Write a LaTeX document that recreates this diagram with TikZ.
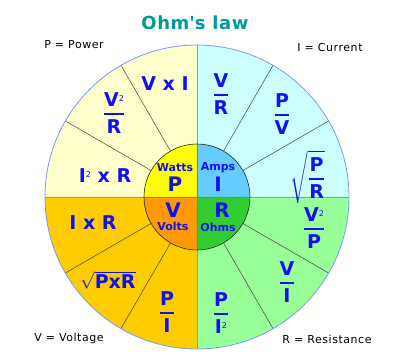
\documentclass[tikz,border=0pt]{standalone}
\usepackage{amsmath}
\usepackage{fontspec}
\setmainfont{DejaVu Sans}
\newfontfamily\legendfont[LetterSpace=5]{DejaVu Sans}
\newfontfamily\titlefont[LetterSpace=3]{DejaVu Sans}
\usepackage{tikz}
\usepackage{xcolor}

\definecolor{powerlight}{HTML}{FFFFCC}
\definecolor{powerdark}{HTML}{FFFF00}
\definecolor{amplight}{HTML}{CCFFFF}
\definecolor{ampdark}{HTML}{66CCFF}
\definecolor{voltlight}{HTML}{FFCC00}
\definecolor{voltdark}{HTML}{FF9900}
\definecolor{ohmlight}{HTML}{99FF99}
\definecolor{ohmdark}{HTML}{33CC33}
\definecolor{ohmblue}{HTML}{1010F0}
\definecolor{ohmteal}{HTML}{009999}
\definecolor{rimblue}{HTML}{7799FF}

\newcommand{\fr}[2]{$\genfrac{}{}{1.6pt}{0}{\text{#1}}{\text{#2}}$}
\newcommand{\sq}{\raisebox{5pt}{\mdseries\fontsize{8}{8}\selectfont 2}}

\begin{document}
\begin{tikzpicture}[x=1pt,y=1pt,
    formula/.style={text=ohmblue,inner sep=0pt,font=\fontsize{19}{21}\selectfont\bfseries},
    unit/.style={text=ohmblue,inner sep=0pt,font=\fontsize{11}{13}\selectfont\bfseries},
    quantity/.style={text=ohmblue,inner sep=0pt,font=\fontsize{20}{22}\selectfont\bfseries},
    legend/.style={inner sep=0pt,font=\legendfont\fontsize{11}{13}\selectfont},
    divider/.style={black!75,line width=0.5pt},
    axisline/.style={black!40,line width=0.6pt}]
        \def\rout{152}
        \def\rin{53}
        \useasboundingbox (-197,-167) rectangle (203,197);

        %------------------
        % outer sectors
        %------------------
        \fill[powerlight] (0,0) -- (90:\rout) arc[start angle=90,end angle=180,radius=\rout] -- cycle;
        \fill[amplight] (0,0) -- (0:\rout) arc[start angle=0,end angle=90,radius=\rout] -- cycle;
        \fill[voltlight] (0,0) -- (180:\rout) arc[start angle=180,end angle=270,radius=\rout] -- cycle;
        \fill[ohmlight] (0,0) -- (270:\rout) arc[start angle=270,end angle=360,radius=\rout] -- cycle;

        % dividers
        \foreach \a in {30,60,120,150,210,240,300,330}
          \draw[divider] (\a:\rin) -- (\a:\rout);
        \draw[axisline] (-\rout,0) -- (\rout,0);
        \draw[axisline] (0,-\rout) -- (0,\rout);
        \draw[rimblue,line width=0.8pt] (0,0) circle (\rout);

        %------------------
        % inner circle
        %------------------
        \fill[powerdark] (0,0) -- (90:\rin) arc[start angle=90,end angle=180,radius=\rin] -- cycle;
        \fill[ampdark] (0,0) -- (0:\rin) arc[start angle=0,end angle=90,radius=\rin] -- cycle;
        \fill[voltdark] (0,0) -- (180:\rin) arc[start angle=180,end angle=270,radius=\rin] -- cycle;
        \fill[ohmdark] (0,0) -- (270:\rin) arc[start angle=270,end angle=360,radius=\rin] -- cycle;
        \draw[black!50,line width=0.5pt] (-\rin,0) -- (\rin,0) (0,-\rin) -- (0,\rin);
        \draw[black!85,line width=0.6pt] (0,0) circle (\rin);

        \node[unit] (watts) at (-22,29) {Watts};
        \node[quantity] (power) at (-22,13) {P};
        \node[unit] (amps) at (21,29) {Amps};
        \node[quantity] (current) at (21,13) {I};
        \node[quantity] (voltage) at (-24,-13) {V};
        \node[unit] (volts) at (-24,-29) {Volts};
        \node[quantity] (resistance) at (25,-13) {R};
        \node[unit] (ohms) at (21,-30) {Ohms};

        %------------------
        % formulas
        %------------------
        % P
        \node[formula] (pvi) at (-32,113) {V x I};
        \node[formula] (pvr) at (-83,84) {\fr{V\sq}{R}};
        \node[formula] (pir) at (-92,21) {I\sq\ x R};
        % I
        \node[formula] (ivr) at (24,103) {\fr{V}{R}};
        \node[formula] (ipv) at (85,83) {\fr{P}{V}};
        \node[formula] (ipr) at (111,20) {$\sqrt{\genfrac{}{}{1.6pt}{0}{\text{P}}{\text{R}}}$};
        % V
        \node[formula] (vir) at (-104,-26) {I x R};
        \node[formula] (vpr) at (-89,-83) {$\sqrt{\text{PxR}}$};
        \node[formula] (vpi) at (-30,-115) {\fr{P}{I}};
        % R
        \node[formula] (rvp) at (117,-31) {\fr{V\sq}{P}};
        \node[formula] (rvi) at (90,-85) {\fr{V}{I}};
        \node[formula] (rpi) at (24,-116) {\fr{P}{I\sq}};

        %------------------
        % title and legend
        %------------------
        \node[text=ohmteal,font=\titlefont\fontsize{18}{20}\selectfont\bfseries] (title) at (-2,174) {Ohm\textquotesingle s law};
        \node[legend] (lp) at (-123,152) {P = Power};
        \node[legend] (li) at (133,150) {I = Current};
        \node[legend] (lv) at (-128,-141) {V = Voltage};
        \node[legend] (lr) at (130,-142) {R = Resistance};
\end{tikzpicture}
\end{document}
